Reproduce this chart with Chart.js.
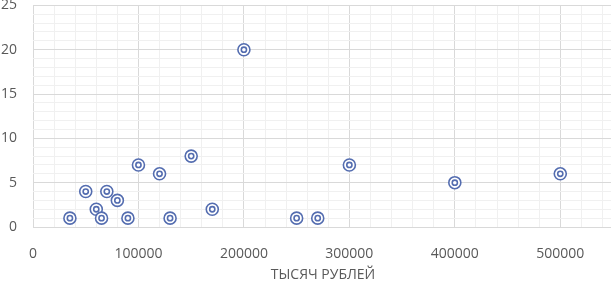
<!DOCTYPE html>
<html>
<head>
<meta charset="utf-8">
<script src="https://cdn.jsdelivr.net/npm/chart.js@4/dist/chart.umd.min.js"></script>
<style>
  html, body { margin: 0; padding: 0; background: #ffffff; overflow: hidden; width: 611px; height: 283px; }
  #wrap { position: absolute; left: 0; top: -3px; width: 613px; height: 287px; }
</style>
</head>
<body>
<div id="wrap"><canvas id="c"></canvas></div>
<script>
// Data
const xValues = [35000, 50000, 60000, 65000, 70000, 80000, 90000, 100000, 120000, 130000, 150000, 170000, 200000, 250000, 270000, 300000, 400000, 500000];
const yValues = [1, 4, 2, 1, 4, 3, 1, 7, 6, 1, 8, 2, 20, 1, 1, 7, 5, 6];
const xAxisTitle = 'ТЫСЯЧ РУБЛЕЙ';
// Tick / gridline positions (major lines get a label, minor lines only a light grid line)
const xTickValues = [0, 20000, 40000, 60000, 80000, 100000, 120000, 140000, 160000, 180000, 200000, 220000, 240000, 260000, 280000, 300000, 320000, 340000, 360000, 380000, 400000, 420000, 440000, 460000, 480000, 500000, 520000, 540000];
const xTickLabels = ['0', '', '', '', '', '100000', '', '', '', '', '200000', '', '', '', '', '300000', '', '', '', '', '400000', '', '', '', '', '500000', '', ''];
const yTickValues = [0, 1, 2, 3, 4, 5, 6, 7, 8, 9, 10, 11, 12, 13, 14, 15, 16, 17, 18, 19, 20, 21, 22, 23, 24, 25];
const yTickLabels = ['0', '', '', '', '', '5', '', '', '', '', '10', '', '', '', '', '15', '', '', '', '', '20', '', '', '', '', '25'];

const points = xValues.map((x, i) => ({ x: x, y: yValues[i] }));
const markerColor = '#546db0';
const labelColor = '#595959';
const majorGrid = '#d9d9d9';
const minorGrid = '#f0f0f0';
const font = { family: "'Open Sans', 'Liberation Sans', sans-serif", size: 14 };

new Chart(document.getElementById('c'), {
  type: 'scatter',
  data: {
    datasets: [
      {
        data: points,
        order: 0,
        pointRadius: 2.6,
        pointBorderWidth: 1.6,
        pointBorderColor: markerColor,
        pointBackgroundColor: '#ffffff',
        pointHoverRadius: 2.6
      },
      {
        data: points,
        order: 1,
        pointRadius: 6,
        pointBorderWidth: 1.6,
        pointBorderColor: markerColor,
        pointBackgroundColor: '#ffffff',
        pointHoverRadius: 6
      }
    ]
  },
  options: {
    responsive: true,
    maintainAspectRatio: false,
    animation: false,
    events: [],
    layout: { padding: 0, autoPadding: false },
    plugins: { legend: { display: false }, tooltip: { enabled: false } },
    scales: {
      x: {
        type: 'linear',
        min: 0,
        max: 550000,
        border: { display: false },
        afterBuildTicks: scale => { scale.ticks = xTickValues.map(v => ({ value: v })); },
        grid: {
          drawTicks: true,
          tickLength: 19,
          tickColor: 'rgba(0,0,0,0)',
          lineWidth: 1,
          color: ctx => (xTickLabels[ctx.index] ? majorGrid : minorGrid)
        },
        ticks: {
          padding: 0,
          maxRotation: 0,
          autoSkip: false,
          color: labelColor,
          font: font,
          callback: (v, i) => xTickLabels[i]
        },
        title: {
          display: true,
          text: xAxisTitle,
          color: labelColor,
          font: font,
          padding: { top: 4, bottom: 1 }
        },
        afterFit: scale => { scale.height = 57; }
      },
      y: {
        type: 'linear',
        min: 0,
        max: 25,
        border: { display: false },
        afterBuildTicks: scale => { scale.ticks = yTickValues.map(v => ({ value: v })); },
        grid: {
          drawTicks: true,
          tickLength: 16,
          tickColor: 'rgba(0,0,0,0)',
          lineWidth: 1,
          color: ctx => (yTickLabels[ctx.index] ? majorGrid : minorGrid)
        },
        ticks: {
          padding: 0,
          autoSkip: false,
          color: labelColor,
          font: font,
          callback: (v, i) => yTickLabels[i]
        },
        afterFit: scale => { scale.width = 33; }
      }
    }
  }
});
</script>
</body>
</html>
